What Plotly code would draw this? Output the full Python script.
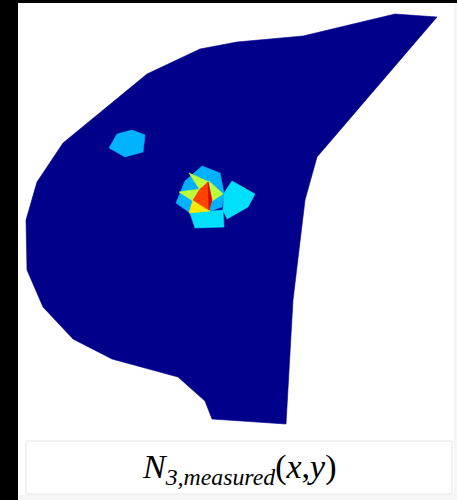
import numpy as np
import plotly.graph_objects as go

# Field boundary (x, y) of the measured domain, y measured downward
boundary_x = [437, 395, 303, 237, 200, 147, 63, 37, 26, 27, 43, 73, 112, 178, 205, 212, 286, 293, 305, 317]
boundary_y = [17, 14, 36, 42, 49, 74, 143, 182, 220, 270, 307, 339, 359, 377, 401, 419, 424, 300, 200, 157]
boundary_level = 0.01

# Patches of elevated N3 (flat-shaded elements), each with its normalised level
hex_x = [132, 145, 143, 125, 109, 117]
hex_y = [130, 135, 152, 157, 148, 134]
hex_level = 0.30

ring_x = [202, 220, 224, 222, 208, 190, 176, 185]
ring_y = [166, 173, 193, 207, 212, 213, 203, 181]
ring_level = 0.30

east_x = [232, 255, 248, 227, 223, 224]
east_y = [181, 194, 207, 219, 210, 193]
east_level = 0.345

south_x = [190, 223, 224, 195]
south_y = [213, 210, 227, 228]
south_level = 0.345

ne_x = [189, 209, 200]
ne_y = [173, 182, 190]
ne_level = 0.58

w_x = [179, 200, 193]
w_y = [192, 189, 201]
w_level = 0.58

e_x = [209, 223, 212]
e_y = [181, 194, 201]
e_level = 0.58

s_x = [189, 193, 210]
s_y = [213, 200, 211]
s_level = 0.665

core_w_x = [200, 208, 209, 193]
core_w_y = [189, 182, 210, 200]
core_w_level = 0.84

core_e_x = [208, 212, 209]
core_e_y = [182, 200, 210]
core_e_level = 0.915

patches = [
    (boundary_x, boundary_y, boundary_level),
    (hex_x, hex_y, hex_level),
    (ring_x, ring_y, ring_level),
    (east_x, east_y, east_level),
    (south_x, south_y, south_level),
    (ne_x, ne_y, ne_level),
    (w_x, w_y, w_level),
    (e_x, e_y, e_level),
    (s_x, s_y, s_level),
    (core_w_x, core_w_y, core_w_level),
    (core_e_x, core_e_y, core_e_level),
]

# Jet colour map (piecewise linear channels)
JET = {
    "r": [(0.0, 0.0), (0.35, 0.0), (0.66, 1.0), (0.89, 1.0), (1.0, 0.5)],
    "g": [(0.0, 0.0), (0.125, 0.0), (0.375, 1.0), (0.64, 1.0), (0.91, 0.0), (1.0, 0.0)],
    "b": [(0.0, 0.5), (0.11, 1.0), (0.34, 1.0), (0.65, 0.0), (1.0, 0.0)],
}


def jet(v):
    out = []
    for ch in ("r", "g", "b"):
        xs, ys = zip(*JET[ch])
        out.append(int(round(255 * float(np.interp(v, xs, ys)))))
    return "rgb({},{},{})".format(*out)


fig = go.Figure()
for xs, ys, lev in patches:
    col = jet(lev)
    fig.add_trace(go.Scatter(
        x=list(xs) + [xs[0]], y=list(ys) + [ys[0]],
        mode="lines", fill="toself", fillcolor=col,
        line=dict(color=col, width=0.6),
        hoverinfo="skip", showlegend=False,
    ))

W, H = 457, 500
shapes = [
    # white panel
    dict(type="rect", x0=18, x1=W, y0=3, y1=H, fillcolor="white", line=dict(width=0), layer="below"),
    # faint grey margins of the panel
    dict(type="rect", x0=454, x1=W, y0=3, y1=H, fillcolor="#f5f5f5", line=dict(width=0), layer="below"),
    dict(type="rect", x0=18, x1=W, y0=495, y1=H, fillcolor="#f5f5f5", line=dict(width=0), layer="below"),
    # caption box
    dict(type="rect", x0=26, x1=452, y0=441, y1=494, fillcolor="white",
         line=dict(color="#e4e4e4", width=1), layer="below"),
]

fig.update_layout(
    width=W, height=H,
    margin=dict(l=0, r=0, t=0, b=0),
    paper_bgcolor="black", plot_bgcolor="black",
    xaxis=dict(range=[0, W], visible=False, fixedrange=True),
    yaxis=dict(range=[H, 0], visible=False, fixedrange=True),
    shapes=shapes,
    annotations=[dict(
        x=239, y=469, xref="x", yref="y", showarrow=False,
        text="<i>N</i><sub><i>3,measured</i></sub>(<i>x</i>,<i>y</i>)",
        font=dict(family="Liberation Serif", size=34, color="black"),
        xanchor="center", yanchor="middle",
    )],
)

fig.write_html("out.html", config={"displayModeBar": False})
